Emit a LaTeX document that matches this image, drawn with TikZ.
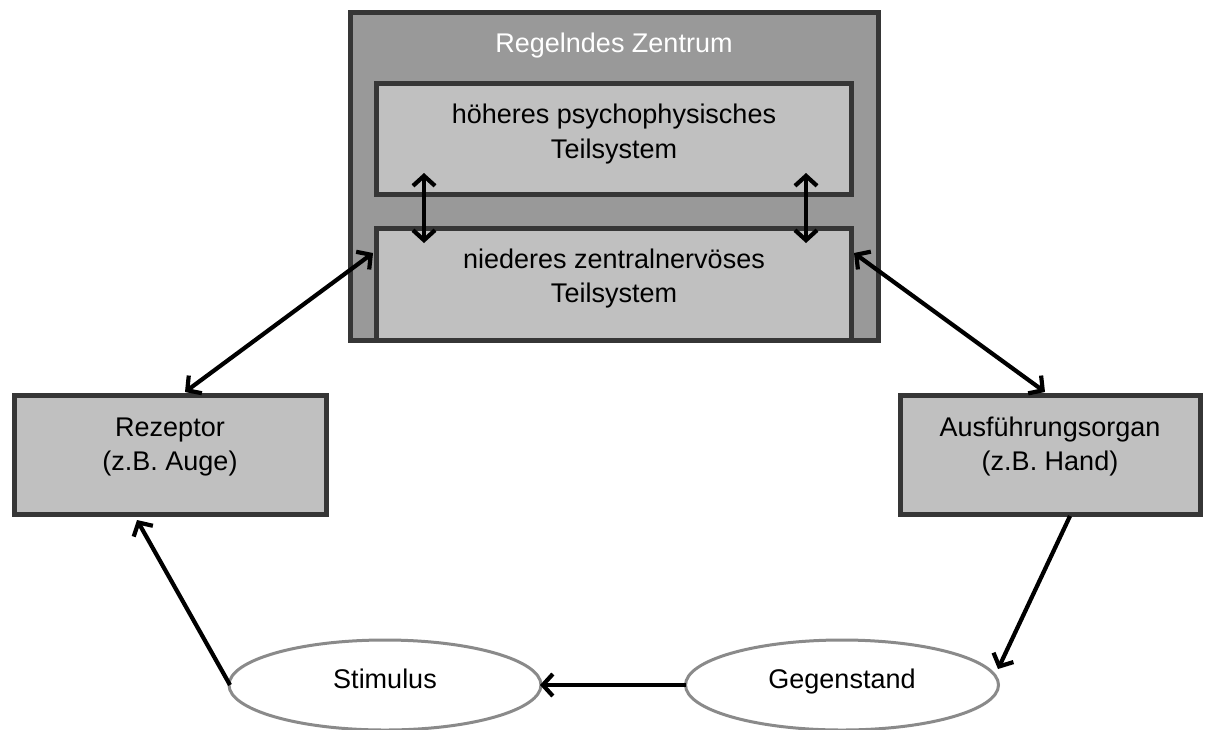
\documentclass[tikz,border=0pt]{standalone}
\usepackage{fontspec}
\setmainfont{Liberation Sans}
\usetikzlibrary{arrows.meta,shapes.geometric}
\definecolor{boxline}{HTML}{363636}
\definecolor{outerfill}{HTML}{999999}
\definecolor{innerfill}{HTML}{C0C0C0}
\definecolor{ellline}{HTML}{8A8A8A}
\begin{document}
\begin{tikzpicture}[x=1pt,y=-1pt,
  box/.style={draw=boxline, line width=5pt, fill=innerfill, inner sep=0pt, rectangle},
  outerbox/.style={box, fill=outerfill},
  oval/.style={draw=ellline, line width=3pt, fill=white, ellipse, inner sep=0pt},
  txt/.style={font=\fontsize{27}{35}\selectfont, anchor=base, inner sep=0pt},
  conn/.style={line width=4.2pt, black, -{Straight Barb[length=10pt,width=22pt]}},
  dconn/.style={conn, {Straight Barb[length=10pt,width=22pt]}-{Straight Barb[length=10pt,width=22pt]}}]
\useasboundingbox[fill=white] (0,0) rectangle (1209,729);

% boxes
\node[outerbox, minimum width=528pt, minimum height=328pt] (zentrum) at (614,176) {};
\node[box, minimum width=475pt, minimum height=111pt] (hoeher) at (613.5,138.5) {};
\node[box, minimum width=475pt, minimum height=112pt] (nieder) at (613.5,284) {};
\node[box, minimum width=312pt, minimum height=119pt] (rez) at (170,454.5) {};
\node[box, minimum width=300pt, minimum height=119pt] (ausf) at (1050,454.5) {};
\node[oval, minimum width=312pt, minimum height=90pt] (stim) at (385,685) {};
\node[oval, minimum width=313pt, minimum height=90pt] (gegen) at (842,685) {};

% texts
\node[txt, text=white] (tz) at (614,52) {Regelndes Zentrum};
\node[txt] (th1) at (614,123) {höheres psychophysisches};
\node[txt] (th2) at (614,158) {Teilsystem};
\node[txt] (tn1) at (614,268) {niederes zentralnervöses};
\node[txt] (tn2) at (614,302) {Teilsystem};
\node[txt] (tr1) at (170,436) {Rezeptor};
\node[txt] (tr2) at (170,470) {(z.B. Auge)};
\node[txt] (ta1) at (1050,436) {Ausführungsorgan};
\node[txt] (ta2) at (1050,470) {(z.B. Hand)};
\node[txt] (ts) at (385,688) {Stimulus};
\node[txt] (tg) at (842,688) {Gegenstand};

% connector end points
\coordinate (v1a) at (424,173);
\coordinate (v1b) at (424,243);
\coordinate (v2a) at (806,173);
\coordinate (v2b) at (806,243);
\coordinate (rezTop) at (185,392);
\coordinate (niedL) at (373,253);
\coordinate (niedR) at (854,253);
\coordinate (ausfTop) at (1045,392);
\coordinate (ausfBot) at (1070,516);
\coordinate (gegenTip) at (998,669);
\coordinate (stimL) at (230,685);
\coordinate (rezBot) at (137,520);
\coordinate (gegenW) at (686,685);
\coordinate (stimE) at (540,685);

% connectors
\draw[dconn] (v1a) -- (v1b);
\draw[dconn] (v2a) -- (v2b);
\draw[dconn] (rezTop) -- (niedL);
\draw[dconn] (niedR) -- (ausfTop);
\draw[conn] (ausfBot) -- (gegenTip);
\draw[conn] (stimL) -- (rezBot);
\draw[conn] (gegenW) -- (stimE);
\end{tikzpicture}
\end{document}
